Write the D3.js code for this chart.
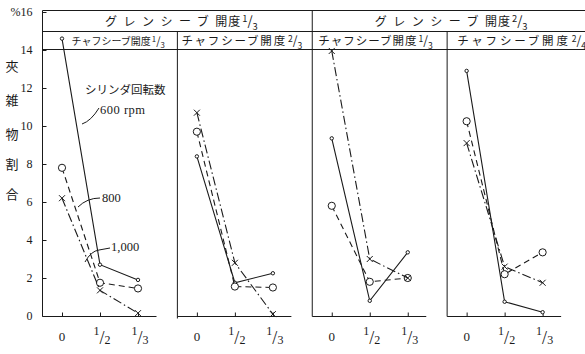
<!DOCTYPE html>
<html><head><meta charset="utf-8">
<script src="https://cdn.jsdelivr.net/npm/d3@7"></script>
<style>body{margin:0;background:#fff}svg{display:block}</style>
</head><body><svg id="c" width="585" height="354"></svg>
<script>
// ---------- data ----------
const categories = ["0", "1/2", "1/3"];
const panels = ["p1", "p2", "p3", "p4"];
const grainHeaders = [
  { text: "グレンシーブ開度", num: "1", den: "3", span: ["p1", "p2"] },
  { text: "グレンシーブ開度", num: "2", den: "3", span: ["p3", "p4"] }
];
const chaffText = "チャフシーブ開度";
const chaffNum = ["1", "2", "1", "2"];
const chaffDen = ["3", "3", "3", "4"];
const seriesNames = ["600 rpm", "800", "1,000"];
// values per panel, per category (0, 1/2, 1/3)
const rpm600 = [[14.6, 2.7, 1.9], [8.4, 1.75, 2.25], [9.35, 0.8, 3.35], [12.9, 0.75, 0.2]];
const rpm800 = [[7.8, 1.75, 1.45], [9.7, 1.55, 1.5], [5.8, 1.8, 2.0], [10.25, 2.2, 3.35]];
const rpm1000 = [[6.2, 1.35, 0.15], [10.7, 2.8, 0.1], [13.95, 3.0, 2.0], [9.1, 2.6, 1.75]];
const yTicks = [0, 2, 4, 6, 8, 10, 12, 14, 16];
const yTickLabels = ["0", "2", "4", "6", "8", "10", "12", "14", "%16"];
const yTitle = "夾雑物割合";
const legendTitle = "シリンダ回転数";

// ---------- setup ----------
const ink = "#1a1a1a";
const serif = "'Liberation Serif','DejaVu Serif',serif";
const jp = "'Noto Sans CJK JP','Noto Sans CJK SC',sans-serif";
const svg = d3.select("#c");
const y = d3.scaleLinear().domain([0, 16]).range([316, 12]);
const px = d3.scaleBand().domain(panels).range([42.5, 582]);
const cx = d3.scalePoint().domain(categories).range([19.5, 95.5]);
const X = (p, c) => px(p) + cx(c);

const line = (x1, y1, x2, y2) => svg.append("line")
  .attr("x1", x1).attr("y1", y1).attr("x2", x2).attr("y2", y2)
  .attr("stroke", ink).attr("stroke-width", 1);

// ---------- frame / headers ----------
const topY = 10.5, midY = 31.5, hbY = 49.5, baseY = y(0) + 0.5;
line(42.5, topY, 585, topY);
line(42.5, midY, 585, midY);
line(42.5, hbY, 585, hbY);
line(px("p2"), midY, px("p2"), baseY + 2);
line(px("p3"), topY, px("p3"), baseY);
line(px("p4"), midY, px("p4"), baseY);
panels.forEach(p => line(px(p), baseY, px(p) + 114, baseY));

function addFrac(t, num, den, s) {
  t.append("tspan").attr("font-size", s * 0.78).attr("dy", -s * 0.3).attr("dx", 1).text(num);
  t.append("tspan").attr("font-size", s * 1.1).attr("dy", s * 0.3).text("/");
  t.append("tspan").attr("font-size", s * 0.78).attr("dy", s * 0.32).text(den);
}

grainHeaders.forEach(h => {
  const x0 = px(h.span[0]), x1 = px(h.span[1]) + px.bandwidth();
  const t = svg.append("text").attr("x", (x0 + x1) / 2 + 4).attr("y", 26)
    .attr("text-anchor", "middle").attr("fill", ink).attr("font-family", jp).attr("font-size", 12);
  t.append("tspan").attr("letter-spacing", 6.5).text(h.text.slice(0, 6));
  t.append("tspan").attr("letter-spacing", 1).text(h.text.slice(6));
  addFrac(t, h.num, h.den, 12);
});

const chaffLayout = [{ dx: 29, ls: 0, fs: 10 }, { dx: 4, ls: 1.8, fs: 11.5 }, { dx: 6, ls: 1, fs: 11.5 }, { dx: 10, ls: 2.8, fs: 11.5 }];
panels.forEach((p, i) => {
  const L = chaffLayout[i];
  const t = svg.append("text").attr("x", px(p) + L.dx).attr("y", 45)
    .attr("fill", ink).attr("font-family", jp).attr("font-size", L.fs);
  t.append("tspan").attr("letter-spacing", L.ls).text(chaffText);
  addFrac(t, chaffNum[i], chaffDen[i], i === 0 ? 10 : 11);
});

// ---------- y axis ----------
line(42.5, topY, 42.5, baseY);
const ya = svg.append("g").attr("transform", "translate(42.5,0)")
  .call(d3.axisLeft(y).tickValues(yTicks).tickSize(-4).tickSizeOuter(0).tickPadding(10)
    .tickFormat((d, i) => yTickLabels[i]));
ya.select(".domain").remove();
ya.selectAll("line").attr("stroke", ink);
ya.selectAll("text").attr("font-family", serif).attr("font-size", 12).attr("fill", ink);

const titleY = [66, 100, 134, 164, 194];
yTitle.split("").forEach((ch, i) => svg.append("text")
  .attr("x", 12).attr("y", titleY[i]).attr("dy", "0.35em").attr("text-anchor", "middle")
  .attr("font-family", jp).attr("font-size", 13).attr("fill", ink).text(ch));

// ---------- x axes ----------
panels.forEach(p => {
  const g = svg.append("g").attr("transform", `translate(${px(p)},${baseY})`)
    .call(d3.axisBottom(cx).tickSize(-4).tickSizeOuter(0).tickFormat(""));
  g.select(".domain").remove();
  g.selectAll("line").attr("stroke", ink);
  categories.forEach(c => {
    const x = X(p, c);
    if (c === "0") {
      svg.append("text").attr("x", x).attr("y", 341).attr("text-anchor", "middle")
        .attr("font-family", serif).attr("font-size", 13).attr("fill", ink).text(c);
    } else {
      const [n, d] = c.split("/");
      const t = svg.append("text").attr("x", x + 2).attr("y", 341).attr("text-anchor", "middle")
        .attr("font-family", serif).attr("fill", ink);
      t.append("tspan").attr("font-size", 12).attr("dy", -6).text(n);
      t.append("tspan").attr("font-size", 18).attr("dy", 9).text("/");
      t.append("tspan").attr("font-size", 12).attr("dy", 0).text(d);
    }
  });
});

// ---------- series ----------
const series = [
  { name: seriesNames[0], values: rpm600, dash: null, marker: "dot" },
  { name: seriesNames[1], values: rpm800, dash: "6,4", marker: "circle" },
  { name: seriesNames[2], values: rpm1000, dash: "9,3,1.5,3", marker: "x" }
];
const gen = d3.line().x(d => d[0]).y(d => d[1]);
series.forEach(s => {
  panels.forEach((p, pi) => {
    const pts = categories.map((c, ci) => [X(p, c), y(s.values[pi][ci])]);
    svg.append("path").attr("d", gen(pts)).attr("fill", "none")
      .attr("stroke", ink).attr("stroke-width", 1.1).attr("stroke-dasharray", s.dash);
    pts.forEach(([a, b]) => {
      if (s.marker === "dot") {
        svg.append("circle").attr("cx", a).attr("cy", b).attr("r", 1.7)
          .attr("fill", "#fff").attr("stroke", ink).attr("stroke-width", 1);
      } else if (s.marker === "circle") {
        svg.append("circle").attr("cx", a).attr("cy", b).attr("r", 3.6)
          .attr("fill", "#fff").attr("stroke", ink).attr("stroke-width", 1);
      } else {
        svg.append("path").attr("d", `M${a - 3},${b - 3}L${a + 3},${b + 3}M${a - 3},${b + 3}L${a + 3},${b - 3}`)
          .attr("stroke", ink).attr("stroke-width", 1);
      }
    });
  });
});

// ---------- annotations ----------
svg.append("text").attr("x", 85).attr("y", 94).attr("font-family", jp).attr("font-size", 11.5)
  .attr("fill", ink).text(legendTitle);
svg.append("text").attr("x", 100).attr("y", 114).attr("font-family", serif).attr("font-size", 12.5)
  .attr("letter-spacing", 0.5).attr("fill", ink).text(seriesNames[0]);
svg.append("text").attr("x", 102).attr("y", 202).attr("font-family", serif).attr("font-size", 12.5)
  .attr("fill", ink).text(seriesNames[1]);
svg.append("text").attr("x", 111).attr("y", 251).attr("font-family", serif).attr("font-size", 12.5)
  .attr("fill", ink).text(seriesNames[2]);
const lead = d => svg.append("path").attr("d", d).attr("fill", "none").attr("stroke", ink).attr("stroke-width", 1);
lead("M82,124 Q91,121 99,108");
lead("M78,207 Q87,198 100,198");
lead("M85,262 Q91,251 99,250 L110,248");
</script></body></html>
